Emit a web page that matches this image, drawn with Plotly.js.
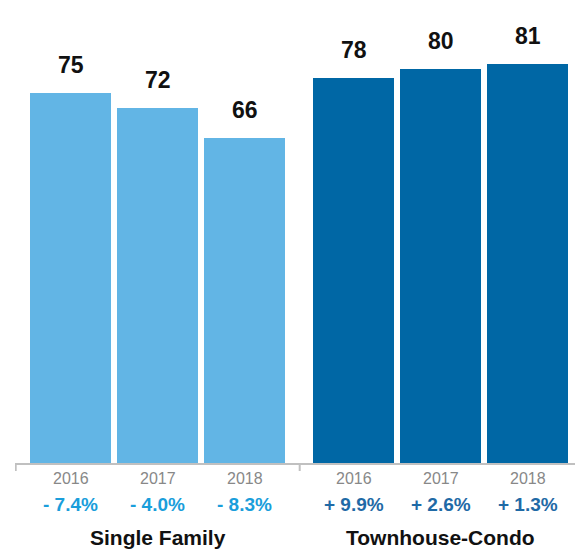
<!DOCTYPE html>
<html>
<head>
<meta charset="utf-8">
<script src="https://cdn.plot.ly/plotly-3.0.1.min.js"></script>
<style>html,body{margin:0;padding:0;background:#fff;}#chart{width:575px;height:553px;}</style>
</head>
<body>
<div id="chart"></div>
<script>
const groups = ['Single Family', 'Townhouse-Condo'];
const years = ['2016', '2017', '2018'];
const singleFamily = [75, 72, 66];
const townhouseCondo = [78, 80, 81];
const singleFamilyChange = ['- 7.4%', '- 4.0%', '- 8.3%'];
const townhouseCondoChange = ['+ 9.9%', '+ 2.6%', '+ 1.3%'];

const groupStride = 3.253;
const barColors = ['#62b5e5', '#0067a5'];
const changeColors = ['#1a9edb', '#1f6aa6'];
const font = 'Liberation Sans, Arial, Helvetica, sans-serif';

const seriesValues = [singleFamily, townhouseCondo];
const seriesChanges = [singleFamilyChange, townhouseCondoChange];

const traces = [];
const annotations = [];
const shapes = [];

seriesValues.forEach((vals, g) => {
  const xs = years.map((_, i) => g * groupStride + i);
  traces.push({
    type: 'bar', x: xs, y: vals, width: 0.931,
    marker: {color: barColors[g]}, hoverinfo: 'skip', name: groups[g]
  });
  xs.forEach((x, i) => {
    annotations.push({x: x, y: vals[i], xref: 'x', yref: 'y', yanchor: 'middle', yshift: 28,
      text: '<b>' + vals[i] + '</b>', showarrow: false, font: {family: font, size: 23, color: '#111'}});
    annotations.push({x: x, y: 0, xref: 'x', yref: 'paper', yanchor: 'middle', yshift: -15,
      text: years[i], showarrow: false, font: {family: font, size: 16, color: '#888'}});
    annotations.push({x: x, y: 0, xref: 'x', yref: 'paper', yanchor: 'middle', yshift: -41,
      text: '<b>' + seriesChanges[g][i] + '</b>', showarrow: false, font: {family: font, size: 19, color: changeColors[g]}});
  });
  annotations.push({x: xs[1], y: 0, xref: 'x', yref: 'paper', yanchor: 'middle', yshift: -74,
    text: '<b>' + groups[g] + '</b>', showarrow: false, font: {family: font, size: 21, color: '#111'}});
});

// tick marks: left edge and between groups
[-0.638, (2 + groupStride) / 2].forEach(x => {
  shapes.push({type: 'line', xref: 'x', yref: 'paper', ysizemode: 'pixel', yanchor: 0,
    x0: x + 0.008, x1: x + 0.008, y0: -1, y1: -8, line: {color: '#c0c0c0', width: 2}});
});

const layout = {
  width: 575, height: 553,
  margin: {l: 15, r: 0, t: 0, b: 90},
  paper_bgcolor: '#fff', plot_bgcolor: '#fff',
  showlegend: false,
  bargap: 0,
  xaxis: {range: [-0.638, 5.799], showgrid: false, zeroline: false, showticklabels: false,
    showline: true, linecolor: '#c0c0c0', linewidth: 2, ticks: '', fixedrange: true},
  yaxis: {range: [0, 93.9], showgrid: false, zeroline: false, showticklabels: false, showline: false, fixedrange: true},
  annotations: annotations,
  shapes: shapes
};

Plotly.newPlot('chart', traces, layout, {displayModeBar: false, staticPlot: true});
</script>
</body>
</html>
